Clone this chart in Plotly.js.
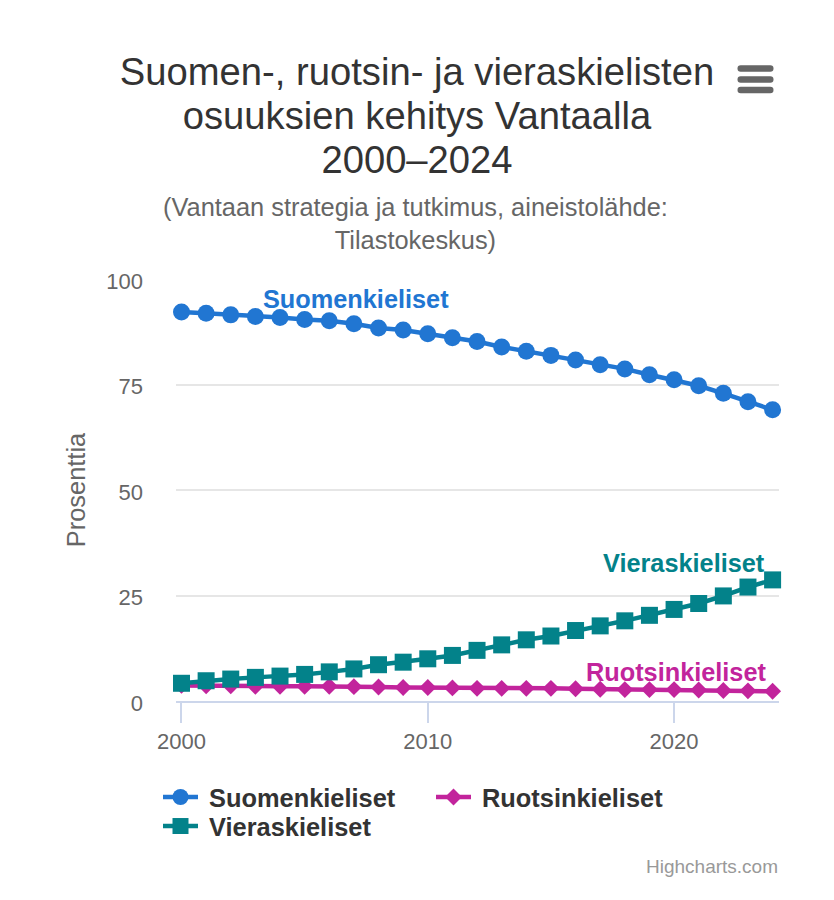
<!DOCTYPE html>
<html>
<head>
<meta charset="utf-8">
<script src="https://cdn.plot.ly/plotly-3.0.1.min.js"></script>
<style>html,body{margin:0;padding:0;background:#fff}#chart{width:834px;height:900px}</style>
</head>
<body>
<div id="chart"></div>
<script>
const years = [2000,2001,2002,2003,2004,2005,2006,2007,2008,2009,2010,2011,2012,2013,2014,2015,2016,2017,2018,2019,2020,2021,2022,2023,2024];
const suomi = [92.2,91.9,91.5,91.1,90.9,90.4,90.1,89.4,88.4,87.9,87.0,86.1,85.2,83.9,82.9,81.9,80.8,79.7,78.7,77.3,76.1,74.7,72.9,70.9,69.0];
const ruotsi = [3.7,3.6,3.6,3.5,3.5,3.5,3.5,3.4,3.3,3.2,3.2,3.1,3.0,3.0,3.0,3.0,2.9,2.8,2.7,2.7,2.7,2.6,2.5,2.4,2.3];
const vieras = [4.2,4.8,5.2,5.6,5.9,6.3,6.9,7.6,8.6,9.2,10.0,10.8,12.0,13.3,14.5,15.4,16.7,17.8,19.0,20.3,21.7,23.1,24.9,27.0,28.7];
const yTicks = [0,25,50,75,100];
const xTicks = [2000,2010,2020];
const names = ['Suomenkieliset','Ruotsinkieliset','Vieraskieliset'];
const colors = ['#2176d2','#c2249c','#03828a'];
const titleText = 'Suomen-, ruotsin- ja vieraskielisten<br>osuuksien kehitys Vantaalla<br>2000–2024';
const subtitleText = '(Vantaan strategia ja tutkimus, aineistolähde:<br>Tilastokeskus)';
const font = '"Liberation Sans", Arial, sans-serif';
const W = 834, H = 900;
const L = 176, T = 279, PW = 603, PH = 422;

function trace(y, i, symbol, size) {
  return {x: years, y: y, name: names[i], type: 'scatter', mode: 'lines+markers',
    cliponaxis: false,
    line: {color: colors[i], width: 4.5},
    marker: {color: colors[i], symbol: symbol, size: size, line: {width: 0}}};
}
function menuBar(yc) {
  const x0 = 737.5, x1 = 773.5, h = 6.5, r = 3.2;
  const X = v => ((v - L) / PW).toFixed(5), Y = v => (1 - (v - T) / PH).toFixed(5);
  const t = yc - h / 2, b = yc + h / 2;
  return {type: 'path', xref: 'paper', yref: 'paper', fillcolor: '#666666', line: {width: 0}, layer: 'above',
    path: `M${X(x0 + r)},${Y(t)} L${X(x1 - r)},${Y(t)} Q${X(x1)},${Y(t)} ${X(x1)},${Y(yc)} Q${X(x1)},${Y(b)} ${X(x1 - r)},${Y(b)} L${X(x0 + r)},${Y(b)} Q${X(x0)},${Y(b)} ${X(x0)},${Y(yc)} Q${X(x0)},${Y(t)} ${X(x0 + r)},${Y(t)} Z`};
}

const data = [trace(suomi, 0, 'circle', 17), trace(ruotsi, 1, 'diamond', 13), trace(vieras, 2, 'square', 17)];
const layout = {
  width: W, height: H,
  margin: {l: L, r: W - L - PW, t: T, b: H - T - PH, pad: 0},
  paper_bgcolor: '#fff', plot_bgcolor: '#fff',
  font: {family: font, color: '#666666', size: 22},
  showlegend: true,
  title: {text: titleText, font: {family: font, size: 38.2, color: '#333333'}, x: 417 / W, xanchor: 'center', y: 1 - 85 / H, yanchor: 'middle'},
  xaxis: {range: [1999.777, 2024.26], tickvals: xTicks, ticktext: xTicks.map(String), showgrid: false, zeroline: false,
    showline: true, linecolor: '#ccd6eb', linewidth: 2, ticks: 'outside', ticklen: 20, tickwidth: 2, tickcolor: '#ccd6eb',
    tickfont: {family: font, size: 22, color: '#666666'}, fixedrange: true},
  yaxis: {range: [0, 100], tickvals: yTicks, ticktext: yTicks.map(String), showgrid: true, gridcolor: '#e6e6e6', gridwidth: 2, zeroline: false,
    showline: false, ticks: '', ticklabelstandoff: 32, ticklabelshift: 2,
    tickfont: {family: font, size: 22, color: '#666666'}, fixedrange: true,
    title: {text: 'Prosenttia', font: {family: font, size: 25.4, color: '#666666'}, standoff: 13}},
  legend: {orientation: 'h', x: -18 / PW, xanchor: 'left', y: 1 - (774 - T) / PH, yanchor: 'top', traceorder: 'normal',
    itemwidth: 35, entrywidth: 223, entrywidthmode: 'pixels', font: {family: font, size: 25.4, color: '#333333', weight: 700}, bgcolor: 'rgba(0,0,0,0)', tracegroupgap: 0},
  annotations: [
    {xref: 'paper', yref: 'paper', x: (415.5 - L) / PW, y: 1 - (223.5 - T) / PH, xanchor: 'center', yanchor: 'middle', text: subtitleText, showarrow: false, font: {family: font, size: 25.4, color: '#666666'}},
    {xref: 'x', yref: 'y', x: 2007.1, y: 95.2, text: '<b>' + names[0] + '</b>', showarrow: false, xanchor: 'center', yanchor: 'middle', font: {family: font, size: 25.3, color: colors[0]}},
    {xref: 'x', yref: 'y', x: 2020.4, y: 32.8, text: '<b>' + names[2] + '</b>', showarrow: false, xanchor: 'center', yanchor: 'middle', font: {family: font, size: 25.3, color: colors[2]}},
    {xref: 'x', yref: 'y', x: 2020.1, y: 6.8, text: '<b>' + names[1] + '</b>', showarrow: false, xanchor: 'center', yanchor: 'middle', font: {family: font, size: 25.3, color: colors[1]}},
    {xref: 'paper', yref: 'paper', x: 1 + 1 / PW, y: 1 - (866 - T) / PH, xanchor: 'right', yanchor: 'middle', text: 'Highcharts.com', showarrow: false, font: {family: font, size: 19, color: '#999999'}}
  ],
  shapes: [menuBar(68.5), menuBar(79.5), menuBar(90)]
};
Plotly.newPlot('chart', data, layout, {displayModeBar: false, responsive: false}).then(function () {
  // tighter title line spacing
  document.querySelectorAll('.gtitle tspan.line').forEach(function (t, i) {
    t.setAttribute('dy', (i * 1.15) + 'em');
  });
  // legend: wider gap between key and text, and tighter rows
  document.querySelectorAll('.legend text.legendtext').forEach(function (t) {
    t.setAttribute('x', parseFloat(t.getAttribute('x')) + 6);
  });
  document.querySelectorAll('.legend .traces').forEach(function (g) {
    const m = /translate\(([-\d.]+),\s*([-\d.]+)\)/.exec(g.getAttribute('transform'));
    if (m && parseFloat(m[2]) > 30) g.setAttribute('transform', 'translate(' + m[1] + ',' + (parseFloat(m[2]) - 7) + ')');
  });
});
</script>
</body>
</html>
